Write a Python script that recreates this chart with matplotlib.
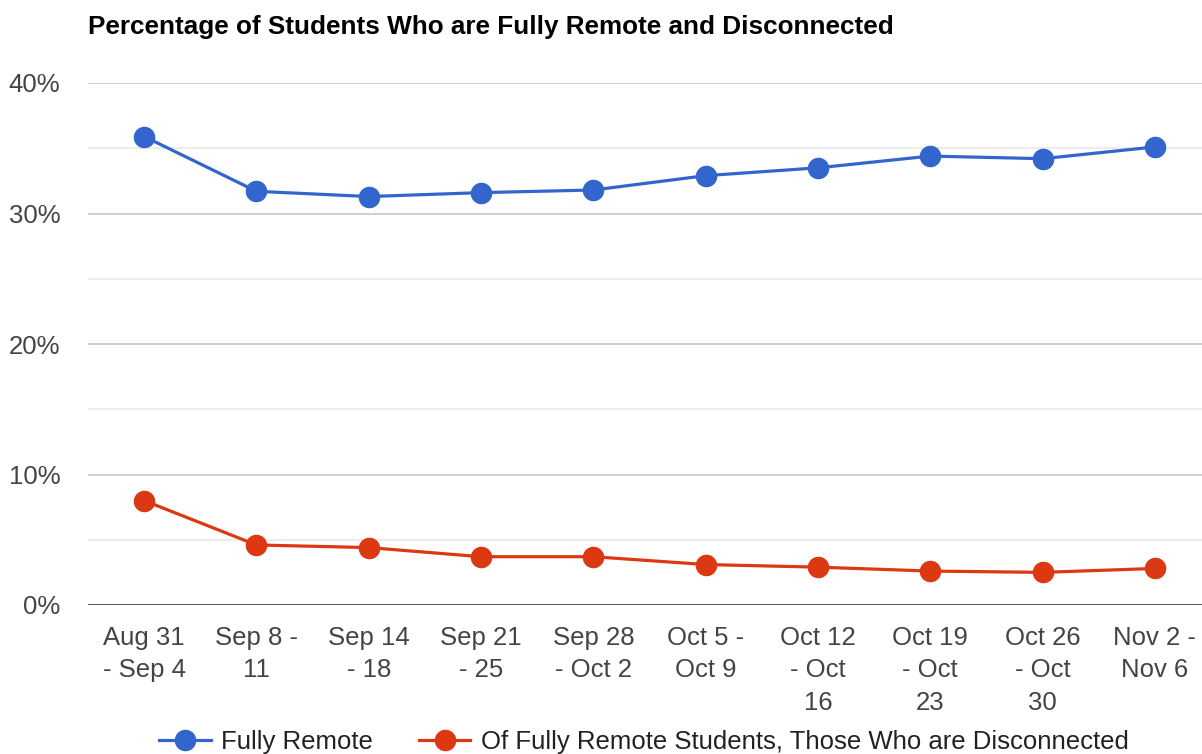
import matplotlib
matplotlib.use("Agg")
import matplotlib.pyplot as plt
from matplotlib.ticker import MultipleLocator, FuncFormatter

plt.rcParams['font.family'] = ['Liberation Sans', 'DejaVu Sans']

weeks = ["Aug 31\n- Sep 4", "Sep 8 -\n11", "Sep 14\n- 18", "Sep 21\n- 25",
         "Sep 28\n- Oct 2", "Oct 5 -\nOct 9", "Oct 12\n- Oct\n16",
         "Oct 19\n- Oct\n23", "Oct 26\n- Oct\n30", "Nov 2 -\nNov 6"]
fully_remote = [35.9, 31.7, 31.3, 31.6, 31.8, 32.9, 33.5, 34.4, 34.2, 35.1]
disconnected = [8.0, 4.6, 4.4, 3.7, 3.7, 3.1, 2.9, 2.6, 2.5, 2.8]

blue = '#3366cc'
red = '#dc3912'

fig = plt.figure(figsize=(12.02, 7.54), dpi=100)
# plot area runs past the right edge, like the cropped screenshot
ax = fig.add_axes([88 / 1202, 149 / 754, 1123 / 1202, 522 / 754])

x = list(range(len(weeks)))
ax.plot(x, fully_remote, color=blue, lw=2.3, marker='o', ms=14.5,
        label="Fully Remote", zorder=5, clip_on=False)
ax.plot(x, disconnected, color=red, lw=2.3, marker='o', ms=14.5,
        label="Of Fully Remote Students, Those Who are Disconnected",
        zorder=5, clip_on=False)

ax.set_xlim(-0.5, len(weeks) - 0.5)
ax.set_ylim(0, 40)
ax.yaxis.set_major_locator(MultipleLocator(10))
ax.yaxis.set_minor_locator(MultipleLocator(5))
ax.yaxis.set_major_formatter(FuncFormatter(lambda v, p: f"{int(v)}%"))
ax.grid(axis='y', which='major', color='#cccccc', lw=1.3, zorder=0)
ax.grid(axis='y', which='minor', color='#ebebeb', lw=1.3, zorder=0)
ax.axhline(0, color='#4d4d4d', lw=2, zorder=3)

for s in ax.spines.values():
    s.set_visible(False)

ax.set_xticks(x)
ax.set_xticklabels(weeks, linespacing=1.45)
ax.tick_params(axis='both', which='both', length=0, labelsize=18.5,
               labelcolor='#444444')
ax.tick_params(axis='x', pad=15)
ax.tick_params(axis='y', pad=20)

fig.text(88 / 1202, 1 - 27 / 754, "Percentage of Students Who are Fully Remote and Disconnected",
         fontsize=18.8, fontweight='bold', color='#000000', va='center', ha='left')

leg = fig.legend(loc='center left', bbox_to_anchor=(149 / 1202, 1 - 742 / 754),
                 ncol=2, frameon=False, fontsize=18.5, labelcolor='#222222',
                 handlelength=2.0, columnspacing=1.8, handletextpad=0.4,
                 borderaxespad=0)

fig.savefig("out.png", dpi=100)
